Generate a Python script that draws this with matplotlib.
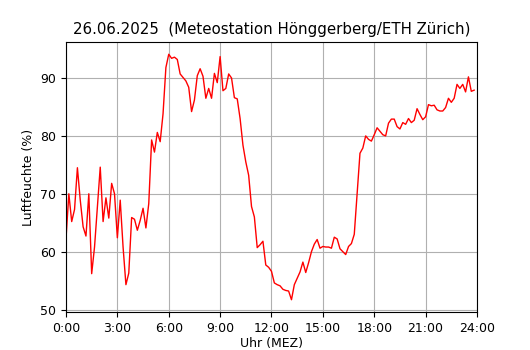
import matplotlib
matplotlib.use("Agg")
import matplotlib.pyplot as plt
import numpy as np

plt.rcParams['font.size'] = 9

# relative Luftfeuchte, 10-Minuten-Werte ab 0:00
feuchte = [
    62.2, 70.0, 65.2, 67.3, 74.5, 68.9, 64.3, 62.7, 70.0, 56.2,
    60.8, 67.7, 74.6, 65.2, 69.3, 65.8, 71.8, 70.0, 62.4, 68.9,
    60.8, 54.3, 56.3, 65.9, 65.6, 63.7, 65.4, 67.5, 64.1, 68.3,
    79.3, 77.2, 80.6, 79.0, 83.8, 91.8, 94.1, 93.4, 93.6, 93.2,
    90.7, 90.1, 89.5, 88.4, 84.2, 86.2, 90.4, 91.6, 90.3, 86.5,
    88.2, 86.5, 90.8, 89.2, 93.7, 87.8, 88.2, 90.7, 90.0, 86.6,
    86.4, 83.0, 78.4, 75.5, 73.2, 67.8, 66.0, 60.7, 61.2, 61.8,
    57.7, 57.3, 56.6, 54.6, 54.3, 54.1, 53.5, 53.3, 53.2, 51.7,
    54.3, 55.4, 56.5, 58.2, 56.4, 58.1, 60.0, 61.3, 62.1, 60.6,
    60.9, 60.8, 60.8, 60.6, 62.5, 62.2, 60.5, 60.0, 59.5, 60.9,
    61.4, 63.0, 70.0, 77.0, 77.9, 80.0, 79.4, 79.1, 80.2, 81.4,
    80.8, 80.2, 80.0, 82.2, 82.9, 82.9, 81.6, 81.2, 82.3, 82.0,
    83.0, 82.3, 82.7, 84.7, 83.7, 82.8, 83.3, 85.4, 85.2, 85.3,
    84.5, 84.3, 84.3, 84.9, 86.5, 85.8, 86.5, 88.9, 88.2, 88.9,
    87.6, 90.2, 87.7, 87.9,
]
stunden = np.arange(len(feuchte)) / 6.0

tick_pos = [0, 3, 6, 9, 12, 15, 18, 21, 24]
tick_labels = ['0:00', '3:00', '6:00', '9:00', '12:00', '15:00', '18:00', '21:00', '24:00']

fig, ax = plt.subplots(figsize=(5.3, 3.5), dpi=100)
fig.subplots_adjust(left=0.1245, right=0.9, top=0.88, bottom=0.1086)

ax.plot(stunden, feuchte, color='red', linewidth=1)
ax.set_xlim(0, 24)
ax.set_xticks(tick_pos)
ax.set_xticklabels(tick_labels)
ax.grid(True)
ax.set_xlabel('Uhr (MEZ)', labelpad=2)
ax.set_ylabel('Luftfeuchte (%)')
ax.set_title('26.06.2025  (Meteostation Hönggerberg/ETH Zürich)')

plt.savefig('out.png', dpi=100)
